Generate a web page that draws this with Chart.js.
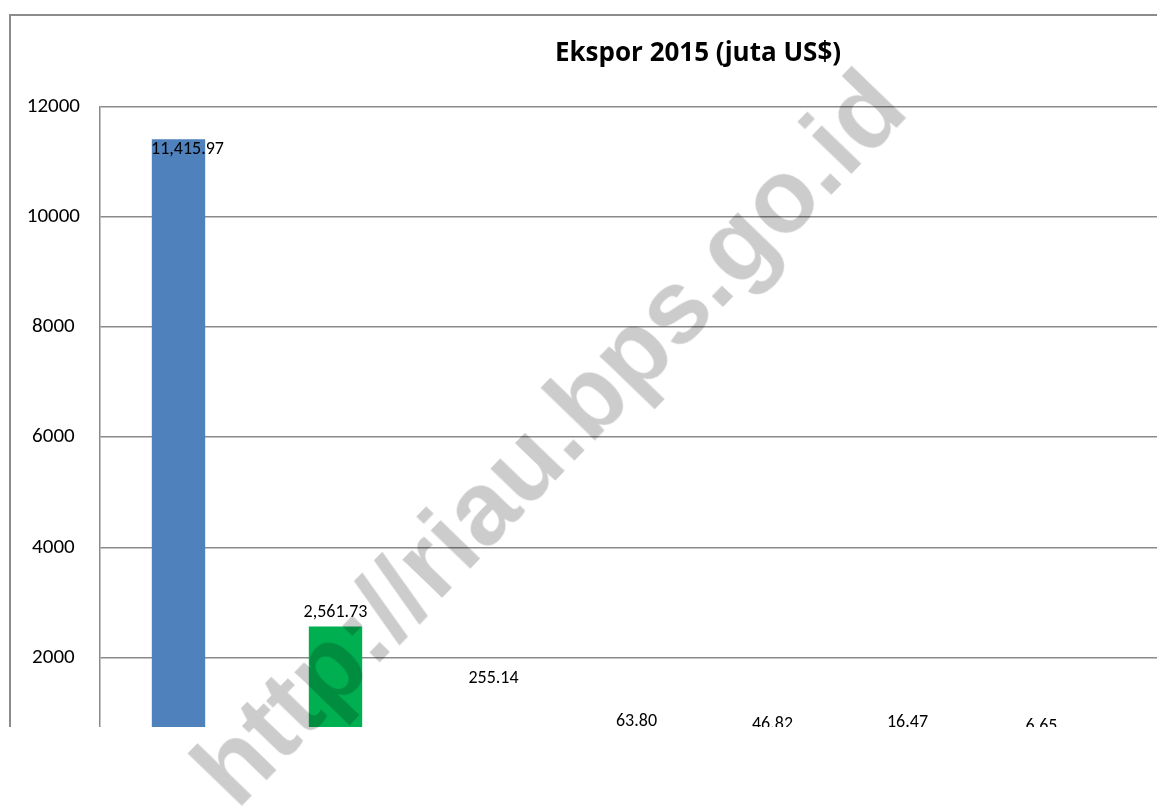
<!DOCTYPE html>
<html>
<head>
<meta charset="utf-8">
<script src="https://cdn.jsdelivr.net/npm/chart.js@4/dist/chart.umd.min.js"></script>
<style>
  html, body { margin: 0; padding: 0; background: #fff; overflow: hidden; }
  body { width: 1157px; height: 810px; position: relative; }
  #clip { position: absolute; left: 0; top: 0; width: 1157px; height: 727px; overflow: hidden; }
  #frame { position: absolute; left: 9px; top: 14px; width: 1500px; height: 1000px; border: 2px solid #8b8b8b; box-sizing: border-box; }
  #box { position: absolute; left: 0; top: 0; width: 1396px; height: 800px; }
  #mark {
    position: absolute; left: 548px; top: 437px;
    transform: translate(-50%, -50%) rotate(-46deg);
    font: bold 104px "Liberation Sans", Arial, sans-serif;
    color: rgba(0, 0, 0, 0.2);
    white-space: nowrap; pointer-events: none;
  }
</style>
</head>
<body>
<div id="clip">
  <div id="frame"></div>
  <div id="box"><canvas id="chart" width="1396" height="800"></canvas></div>
</div>
<div id="mark">http://riau.bps.go.id</div>
<script>
const categories = [
  "Lemak & Minyak Hewan/Nabati",
  "Bubur Kayu/Pulp",
  "Kertas/Karton",
  "Bahan Kimia Organik",
  "Kayu, Barang dari Kayu",
  "Karet & Barang dari Karet",
  "Lainnya"
]
const ekspor = [11415.97, 2561.73, 255.14, 63.80, 46.82, 16.47, 6.65]
const yTicks = [0, 2000, 4000, 6000, 8000, 10000, 12000]

const barColors = ["#4F81BD", "#00B050", "#C0504D", "#9BBB59", "#8064A2", "#4BACC6", "#F79646"]
// where Excel left each label, relative to its bar centre / bar top
const labelDx = [9, 0, 1, -13, -34, -56, -79]
const labelDy = [10, -14, -75, -42, -40, -44, -41]

const valueLabels = {
  id: "valueLabels",
  afterDatasetsDraw(chart) {
    const ctx = chart.ctx
    const meta = chart.getDatasetMeta(0)
    ctx.save()
    ctx.font = "18px Carlito, Lato, sans-serif"
    ctx.fillStyle = "#000"
    ctx.textAlign = "center"
    ctx.textBaseline = "middle"
    meta.data.forEach((bar, i) => {
      const v = ekspor[i].toLocaleString("en-US", { minimumFractionDigits: 2, maximumFractionDigits: 2 })
      ctx.fillText(v, bar.x + labelDx[i], bar.y + labelDy[i])
    })
    ctx.restore()
  }
}

new Chart(document.getElementById("chart"), {
  type: "bar",
  data: {
    labels: categories,
    datasets: [{
      label: "Ekspor 2015",
      data: ekspor,
      backgroundColor: barColors,
      barPercentage: 0.34,
      categoryPercentage: 1
    }]
  },
  options: {
    responsive: false,
    maintainAspectRatio: false,
    animation: false,
    layout: { padding: 0 },
    plugins: {
      legend: { display: false },
      tooltip: { enabled: false },
      title: {
        display: true,
        text: "Ekspor 2015 (juta US$)",
        color: "#000",
        font: { family: "'Open Sans', sans-serif", size: 26, weight: "bold", lineHeight: 1.2 },
        padding: { top: 38, bottom: 37.8 }
      }
    },
    scales: {
      x: {
        grid: { display: false },
        border: { display: false },
        ticks: { display: false },
        afterFit: (axis) => { axis.height = 27 }
      },
      y: {
        min: yTicks[0],
        max: yTicks[yTicks.length - 1],
        afterBuildTicks: (axis) => { axis.ticks = yTicks.map(v => ({ value: v })) },
        grid: { color: "#8a8a8a", lineWidth: 1.5, drawTicks: false },
        border: { display: true, color: "#8a8a8a", width: 1.5 },
        ticks: {
          color: "#000",
          crossAlign: "center",
          padding: 20,
          font: { family: "Carlito, Lato, sans-serif", size: 21 },
          callback: (v) => String(v)
        },
        afterFit: (axis) => { axis.width = 100 }
      },
      // empty right-hand strip so the title centres on the whole chart
      yRight: {
        position: "right",
        grid: { display: false },
        border: { display: false },
        ticks: { display: false },
        afterFit: (axis) => { axis.width = 197 }
      }
    }
  },
  plugins: [valueLabels]
})
</script>
</body>
</html>
